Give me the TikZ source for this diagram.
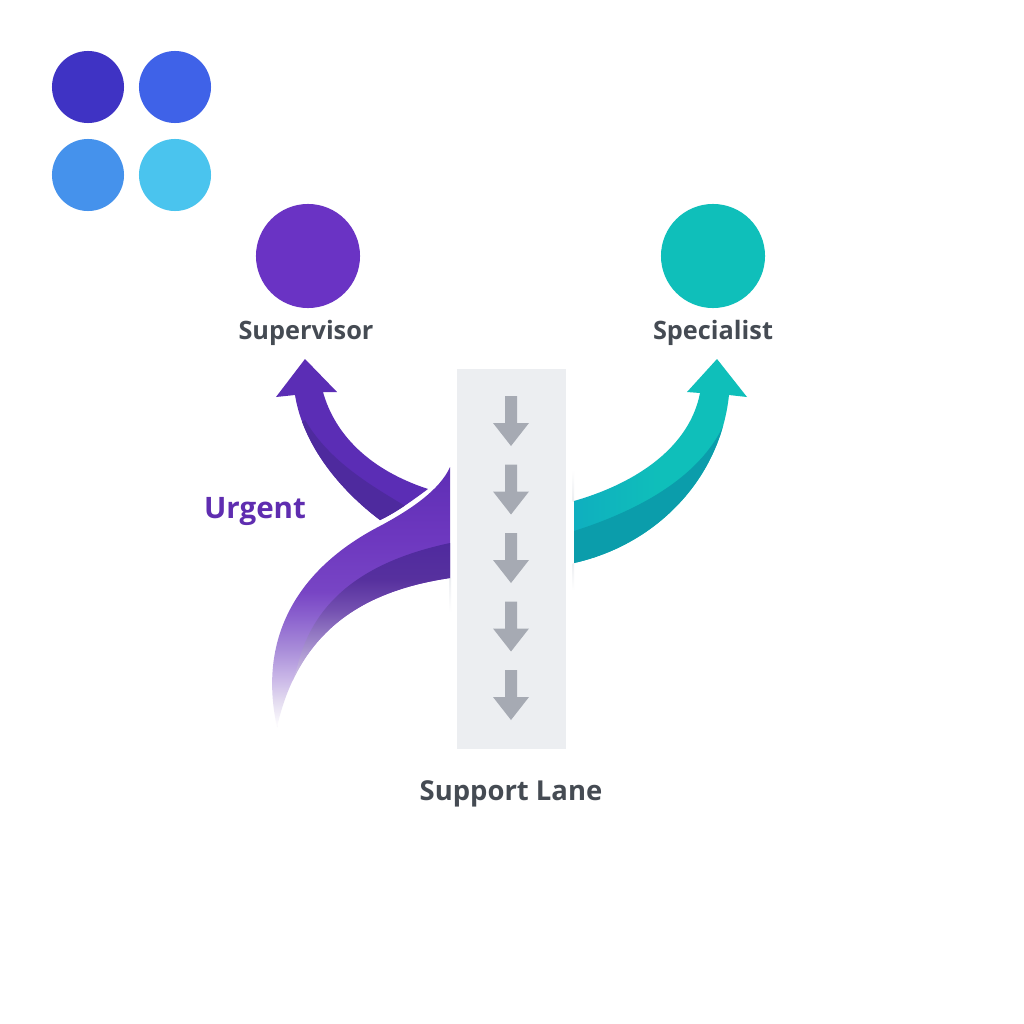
\documentclass[tikz,border=0pt]{standalone}
\usepackage{fontspec}
\setmainfont{Open Sans}
\usepackage{tikz}

\definecolor{labelgray}{HTML}{454B53}
\definecolor{urgentpurple}{HTML}{5F2DB0}
\definecolor{rolepurple}{HTML}{6A33C4}
\definecolor{darkpurple}{HTML}{4E2A9E}
\definecolor{midpurple}{HTML}{5B2DB5}
\definecolor{lanegray}{HTML}{ECEEF1}
\definecolor{downgray}{HTML}{A6AAB3}
\definecolor{tealbright}{HTML}{0FBFBA}
\definecolor{tealleft}{HTML}{0FAFBF}
\definecolor{tealdark}{HTML}{0B9DAB}

\pgfdeclareverticalshading{swooshmain}{100bp}{
  rgb(0bp)=(1,1,1); rgb(25bp)=(1,1,1); rgb(30bp)=(.89,.86,.94); rgb(34bp)=(.80,.73,.91);
  rgb(40bp)=(.66,.55,.85); rgb(46bp)=(.55,.39,.81); rgb(51bp)=(.47,.27,.77);
  rgb(61bp)=(.43,.22,.75); rgb(75bp)=(.37,.18,.71); rgb(100bp)=(.37,.18,.71)}
\pgfdeclareverticalshading{swooshband}{100bp}{
  rgb(0bp)=(.85,.80,.92); rgb(25bp)=(.85,.80,.92); rgb(40bp)=(.79,.73,.88); rgb(48bp)=(.62,.53,.79);
  rgb(57bp)=(.45,.31,.69); rgb(65bp)=(.34,.19,.62); rgb(75bp)=(.31,.165,.62); rgb(100bp)=(.31,.165,.62)}

\tikzset{
  dot/.style={circle, minimum size=#1, inner sep=0pt},
  lbl/.style={font=\bfseries\fontsize{7.2}{9}\selectfont, text=labelgray, inner sep=0pt},
}

\def\swooshpath{(450,467) -- (450,578) .. controls (370,590) and (300,625) .. (277,727)
  .. controls (258,640) and (295,570) .. (380,526) .. controls (410,510) and (440,490) .. (450,467) -- cycle}

\begin{document}
\begin{tikzpicture}[x=.01cm, y=-.01cm]

    \useasboundingbox (0,0) rectangle (1024,1024);
    \fill[white] (0,0) rectangle (1024,1024);

    % Palette
    \foreach \cx/\cy/\cc/\nm in {88/87/3F33C4/pa, 175/87/3F62E8/pb, 88/175/4592EC/pc, 175/175/4AC4EE/pd} {
      \definecolor{dotcolor}{HTML}{\cc}
      \node[dot=.72cm, fill=dotcolor] (\nm) at (\cx,\cy) {};
    }

    % Roles
    \node[dot=1.04cm, fill=rolepurple] (supervisor) at (308,256) {};
    \node[dot=1.04cm, fill=tealbright] (specialist) at (713,256) {};
    \node[lbl] (supervisorlbl) at (306,333) {Supervisor};
    \node[lbl] (specialistlbl) at (713,333) {Specialist};
    \node[lbl, text=urgentpurple, font=\bfseries\fontsize{8.4}{10}\selectfont] (urgentlbl) at (255,511) {Urgent};
    \node[lbl, font=\bfseries\fontsize{7.8}{10}\selectfont] (lanelbl) at (511,794) {Support Lane};

    % Lane
    \fill[lanegray] (457,369) rectangle (566,749);
    \foreach \y in {396,464.5,533,601.5,670} {
      \fill[downgray] (505,\y) -- (517,\y) -- (517,\y+27) -- (529,\y+27) -- (511,\y+50) -- (493,\y+27) -- (505,\y+27) -- cycle;
    }
    \shade[top color=lanegray, bottom color=white] (449.5,578) rectangle (451,612);
    \shade[top color=white, bottom color=lanegray] (572.5,470) rectangle (574,501);
    \shade[top color=lanegray, bottom color=white] (572.5,563) rectangle (574,590);

    % Arrow to supervisor
    \begin{scope}
      \path[clip] (305,359) -- (337,392) -- (323,392) .. controls (335,435) and (370,470) .. (428,489)
        .. controls (413,500) and (397,512) .. (380,520) .. controls (340,490) and (303,445) .. (295,395)
        -- (276,397) -- cycle;
      \fill[midpurple] (270,350) rectangle (440,530);
      \fill[darkpurple] (305,420) .. controls (330,462) and (370,485) .. (412,510) -- (380,530) -- (290,430) -- cycle;
    \end{scope}

    % Arrow to specialist
    \begin{scope}
      \path[clip] (717,359) -- (747,397) -- (729,395) .. controls (720,480) and (655,545) .. (574,563)
        -- (574,501) .. controls (640,482) and (690,445) .. (700,393) -- (687,392) -- cycle;
      \shade[left color=tealleft, right color=tealbright, middle color=tealbright] (574,350) rectangle (750,570);
      \fill[tealdark] (574,531) .. controls (640,510) and (705,475) .. (727,417) -- (745,417) -- (745,580) -- (574,580) -- cycle;
    \end{scope}

    % Urgent swoosh
    \shade[shading=swooshmain] \swooshpath;
    \begin{scope}
      \path[clip] \swooshpath;
      \shade[shading=swooshband] (450,543) .. controls (380,558) and (315,590) .. (297,668) -- (277,727) -- (450,727) -- cycle;
    \end{scope}

\end{tikzpicture}
\end{document}
